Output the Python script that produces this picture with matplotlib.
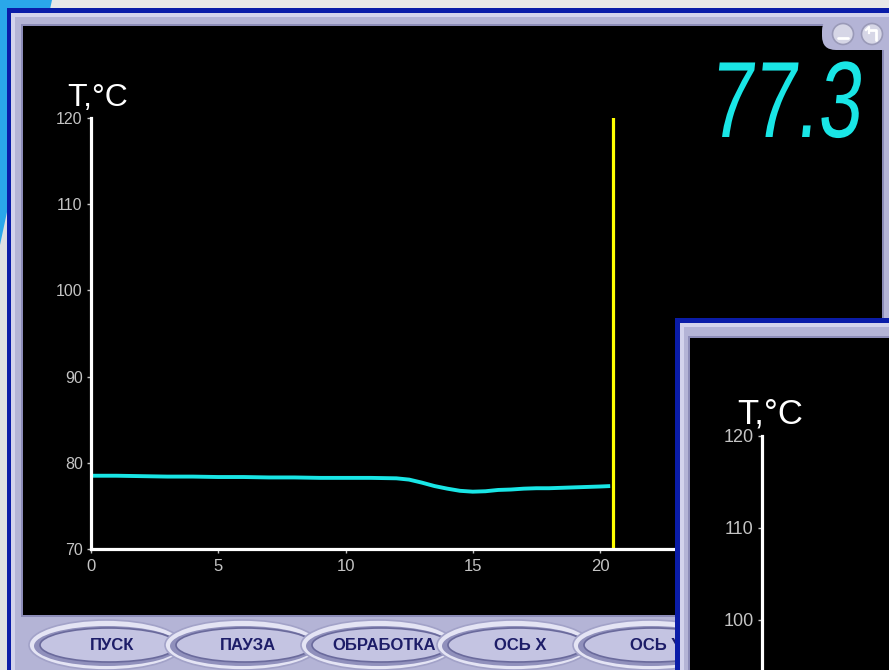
import matplotlib.pyplot as plt
from matplotlib.patches import Rectangle, Polygon, Ellipse, Circle, FancyBboxPatch
from matplotlib.patheffects import AbstractPathEffect
from matplotlib.transforms import Affine2D

plt.rcParams['font.family'] = ['Liberation Sans', 'DejaVu Sans']

# temperature log, seconds -> degC
times = [0, 1, 2, 3, 4, 5, 6, 7, 8, 9, 10, 11, 12, 12.5, 13, 13.5, 14, 14.5,
         15, 15.5, 16, 16.5, 17, 17.5, 18, 18.5, 19, 19.5, 20, 20.4]
temps = [78.5, 78.5, 78.45, 78.4, 78.4, 78.35, 78.35, 78.3, 78.3, 78.25, 78.25,
         78.25, 78.2, 78.05, 77.7, 77.3, 77.0, 76.75, 76.65, 76.7, 76.85, 76.9,
         77.0, 77.05, 77.05, 77.1, 77.15, 77.2, 77.25, 77.3]
cursor_t = 20.5

y_ticks = [70, 80, 90, 100, 110, 120]
y_ticks_small = [100, 110, 120]
x_ticks = [0, 5, 10, 15, 20, 25, 30]
buttons = ['ПУСК', 'ПАУЗА', 'ОБРАБОТКА', 'ОСЬ X', 'ОСЬ Y']

W, H = 889, 670
LAV = '#b4b4d6'
LAV_LIGHT = '#d3d3ec'
LAV_DARK = '#8c8cb8'
NAVY = '#0a1ca8'
CYAN = '#19e6e6'
TICK_GRAY = '#c4c4c4'


class Squeeze(AbstractPathEffect):
    """Narrow and slant glyphs around a pixel anchor (LED-style readout)."""

    def __init__(self, anchor, sx=1.0, slant=0.0):
        super().__init__()
        self.anchor = anchor
        self.sx = sx
        self.slant = slant

    def draw_path(self, renderer, gc, tpath, affine, rgbFace=None):
        x0, y0 = self.anchor
        extra = (Affine2D().translate(-x0, -y0).skew_deg(self.slant, 0)
                 .scale(self.sx, 1).translate(x0, y0))
        renderer.draw_path(gc, tpath, affine + extra, rgbFace)


def frac(x0, y0, x1, y1):
    # pixel box (top-left origin) -> figure fraction rect
    return [x0 / W, (H - y1) / H, (x1 - x0) / W, (y1 - y0) / H]


fig = plt.figure(figsize=(W / 100, H / 100), dpi=100)

# ---- window chrome behind the main plot ----
bg = fig.add_axes([0, 0, 1, 1], zorder=0)
bg.set_xlim(0, W)
bg.set_ylim(H, 0)
bg.axis('off')

bg.add_patch(Rectangle((0, 0), W, H, fc='#dcdfe2', ec='none'))
bg.add_patch(Rectangle((48, 0), W, 10, fc='#e8e8e8', ec='none'))
bg.add_patch(Polygon([(0, 0), (52, 0), (0, 245)], fc='#2aa7ea', ec='none'))
bg.add_patch(Rectangle((7, 8), W, H, fc=NAVY, ec='none'))
bg.add_patch(Rectangle((11, 13), W, H, fc=LAV_LIGHT, ec='none'))
bg.add_patch(Rectangle((15, 17), W, H, fc=LAV, ec='none'))
bg.add_patch(Rectangle((21, 24), 863, 593, fc=LAV_DARK, ec='none'))
bg.add_patch(Rectangle((23, 26), 859, 589, fc='black', ec='none'))

# corner with window buttons
bg.add_patch(FancyBboxPatch((822, 17), 90, 33, boxstyle='round,pad=0,rounding_size=14',
                            fc=LAV, ec='none'))
bg.add_patch(Rectangle((835, 17), 60, 20, fc=LAV, ec='none'))
for cx in (843, 872):
    bg.add_patch(Circle((cx, 34), 10.5, fc='#d6d6e6', ec='#9a9ab8', lw=1.2))
bg.plot([838, 848], [38, 38], color='white', lw=2, solid_capstyle='round')
bg.plot([869, 876, 876], [30, 30, 40], color='white', lw=2, solid_capstyle='round')
bg.plot([866, 869, 869], [30, 27, 33], color='white', lw=1.6)

# button strip
for i, name in enumerate(buttons):
    cx = 106 + i * 136
    bg.add_patch(Ellipse((cx, 645), 154, 50, fc='#e4e4f4', ec='#a2a2c8', lw=1.2))
    bg.add_patch(Ellipse((cx + 1, 646), 146, 40, fc='#9090bc', ec='none'))
    bg.add_patch(Ellipse((cx + 3, 645), 138, 34, fc='#c4c4e2', ec='#6a6a9c', lw=1.2))
    bg.text(cx + 6, 645, name, ha='center', va='center', fontsize=12,
            fontweight='bold', color='#1d1d68')

bg.text(67, 106, 'T,°C', fontsize=23, color='white', va='baseline', ha='left')

# digital readout of the latest sample (anchor: bottom-right, pixels from bottom)
readout = bg.text(860, 137, f'{temps[-1]:.1f}', fontsize=78, color=CYAN,
                  ha='right', va='baseline')
readout.set_path_effects([Squeeze((860, H - 137), sx=0.72, slant=8)])

# ---- main temperature plot ----
x0_px, y_top, y_bot = 91, 118, 549
px_per_s = 25.45
ax = fig.add_axes(frac(x0_px, y_top, x0_px + 30 * px_per_s, y_bot), zorder=1)
ax.patch.set_visible(False)
ax.plot(times, temps, color=CYAN, lw=2.8, solid_capstyle='butt')
ax.plot([cursor_t, cursor_t], [70, 120], color='#ffff00', lw=2.3)
ax.set_xlim(0, 30)
ax.set_ylim(70, 120)
ax.set_xticks(x_ticks)
ax.set_yticks(y_ticks)
for s in ('top', 'right'):
    ax.spines[s].set_visible(False)
for s in ('left', 'bottom'):
    ax.spines[s].set_color('white')
    ax.spines[s].set_linewidth(2.3)
ax.tick_params(axis='y', colors=TICK_GRAY, length=3, width=1, labelsize=11.5, pad=3)
ax.tick_params(axis='x', colors=TICK_GRAY, length=3, width=1, labelsize=12, pad=4)

# ---- second window lying on top ----
ov = fig.add_axes([0, 0, 1, 1], zorder=2)
ov.set_xlim(0, W)
ov.set_ylim(H, 0)
ov.axis('off')
ov.patch.set_visible(False)
ov.add_patch(Rectangle((675, 318), 300, 400, fc=NAVY, ec='none'))
ov.add_patch(Rectangle((680, 323), 300, 400, fc=LAV_LIGHT, ec='none'))
ov.add_patch(Rectangle((684, 327), 300, 400, fc=LAV, ec='none'))
ov.add_patch(Rectangle((688, 336), 300, 400, fc=LAV_DARK, ec='none'))
ov.add_patch(Rectangle((690, 338), 300, 400, fc='black', ec='none'))
ov.text(737, 423, 'T,°C', fontsize=25, color='white', va='baseline', ha='left')

ax2 = fig.add_axes(frac(762, 436, W + 40, 436 + 460), zorder=3)
ax2.patch.set_visible(False)
ax2.set_ylim(70, 120)
ax2.set_xlim(0, 30)
ax2.set_yticks(y_ticks_small)
ax2.set_xticks([])
for s in ('top', 'right', 'bottom'):
    ax2.spines[s].set_visible(False)
ax2.spines['left'].set_color('white')
ax2.spines['left'].set_linewidth(2.3)
ax2.tick_params(axis='y', colors=TICK_GRAY, length=3, width=1, labelsize=13, pad=3)

fig.savefig('out.png', dpi=100, facecolor='black')
